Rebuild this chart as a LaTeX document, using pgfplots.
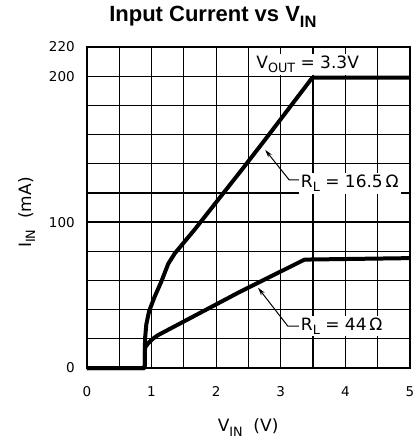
\documentclass[border=0pt]{standalone}
\usepackage{pgfplots}
\pgfplotsset{compat=1.18}
\usepackage{fontspec}
\usepackage{graphicx}
\setmainfont{DejaVu Sans}
\newfontfamily\titlefont{Liberation Sans}
\usetikzlibrary{arrows.meta}
\newcommand\sbs[1]{\raisebox{-0.45ex}{\scalebox{0.75}{#1}}}
\begin{document}
\begin{tikzpicture}
\useasboundingbox (-86.9pt,-76pt) rectangle (327pt,368pt);
\begin{axis}[at={(0,0)}, anchor=south west,
 width=323pt, height=321pt, scale only axis,
 xmin=0, xmax=5, ymin=0, ymax=220,
 xtick={0,0.5,1,1.5,2,2.5,3,3.5,4,4.5,5}, xticklabels={0,,1,,2,,3,,4,,5},
 ytick={0,20,40,60,80,100,120,140,160,180,200,220}, yticklabels={0,,,,,100,,,,,200,220},
 major tick length=0pt,
 grid=major, grid style={black, line width=1.2pt},
 axis line style={black, line width=1.8pt},
 tick label style={font=\fontsize{13.5}{16}\selectfont},
 xticklabel style={inner sep=0pt, yshift=-18pt},
 yticklabel style={inner sep=0pt, xshift=-12pt},
 /pgf/number format/assume math mode=true,
 clip=false,
]
\addplot[black, line width=4pt, line join=round] coordinates {
(0,0) (0.895,0) (0.9,20) (0.92,30) (0.963,39) (1.05,49) (1.15,59) (1.26,71.5) (1.36,78.5) (1.67,95) (2.4,136) (2.75,156) (3.49,199) (5,199)};
\addplot[black, line width=4pt, line join=round] coordinates {
(0,0) (0.895,0) (0.9,14) (0.95,17) (1.02,20) (1.1,22.5) (2.36,52) (3.37,74.3) (5,75.3)};

\draw[line width=1pt, -{Stealth[length=8pt,width=4.5pt]}] (axis cs:3.28,129) -- (axis cs:3.13,129) -- (axis cs:2.76,149.5);
\draw[line width=1pt, -{Stealth[length=8pt,width=4.5pt]}] (axis cs:3.28,28.7) -- (axis cs:3.11,28.7) -- (axis cs:2.65,55);

\node[anchor=base west, fill=white, inner sep=2pt, font=\fontsize{17}{20}\selectfont] at (axis cs:3.28,123.7) {R\sbs{L} = 16.5\,Ω};
\node[anchor=base west, fill=white, inner sep=2pt, font=\fontsize{17}{20}\selectfont] at (axis cs:3.28,25.9) {R\sbs{L} = 44\,Ω};
\node[anchor=base west, fill=white, inner sep=2pt, font=\fontsize{17}{20}\selectfont] at (axis cs:2.59,205.5) {V\sbs{OUT} = 3.3V};

\node[rotate=90, anchor=base, font=\fontsize{17}{20}\selectfont] at (rel axis cs:-0.173,0.484) {I\sbs{IN}~~(mA)};
\node[anchor=base, font=\fontsize{17}{20}\selectfont] at (rel axis cs:0.499,-0.199) {V\sbs{IN}~~(V)};
\node[anchor=base, font=\titlefont\bfseries\fontsize{22}{26}\selectfont] at (rel axis cs:0.39,1.078) {Input Current vs V\sbs{IN}};
\end{axis}
\end{tikzpicture}
\end{document}
